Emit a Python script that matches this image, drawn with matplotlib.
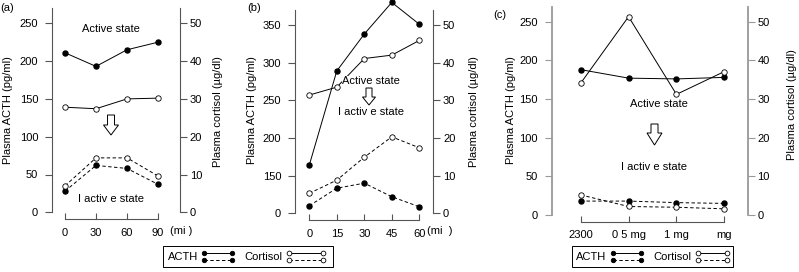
import numpy as np
import matplotlib
matplotlib.use("Agg")
import matplotlib.pyplot as plt
import matplotlib.transforms as mtransforms
from matplotlib.patches import Polygon, Rectangle
from matplotlib.lines import Line2D

plt.rcParams['font.family'] = ['Liberation Sans', 'DejaVu Sans']
plt.rcParams['font.size'] = 8

# ---------------- data ----------------
a_x = [0, 30, 60, 90]
a_x_labels = ["0", "30", "60", "90"]
a_acth_active = [211, 193, 215, 225]
a_cort_active = [27.8, 27.4, 30.0, 30.2]
a_acth_inactive = [28, 62, 58, 37]
a_cort_inactive = [7.0, 14.4, 14.4, 9.6]

b_x = [0, 15, 30, 45, 60]
b_x_labels = ["0", "15", "30", "45", "60"]
b_acth_active = [164, 289, 338, 380, 351]
b_cort_active = [31.4, 33.5, 41.1, 42.0, 45.9]
b_acth_inactive = [30, 100, 120, 66, 26]
b_cort_inactive = [5.3, 8.8, 14.9, 20.3, 17.4]
b_yticks = [0, 150, 200, 250, 300, 350]

c_x = [0, 1, 2, 3]
c_x_labels = ["2300", "0 5 mg", "1 mg", "mg"]
c_acth_active = [188, 177, 176, 178]
c_cort_active = [34.1, 51.3, 31.2, 37.1]
c_acth_inactive = [18, 18, 16, 15]
c_cort_inactive = [5.2, 2.2, 2.0, 1.6]

acth_yticks = [0, 50, 100, 150, 200, 250]
cort_yticks = [0, 10, 20, 30, 40, 50]

W, H = 799, 272
fig = plt.figure(figsize=(W / 100, H / 100), dpi=100)
pix = mtransforms.Affine2D().scale(1 / W, -1 / H).translate(0, 1) + fig.transFigure

SPC = '#555555'
DASH = (0, (3.5, 2.5))


def ax_at(x0, y0, x1, y1):
    return fig.add_axes([x0 / W, (H - y1) / H, (x1 - x0) / W, (y1 - y0) / H])


def panel(box, x, xlabels, xlim, ylim, ylim2, yticks, acth_a, cort_a, acth_i, cort_i,
          scale=None, spine_col=SPC, spine_lw=0.8):
    ax = ax_at(*box)
    ax.patch.set_alpha(0)
    if scale is not None:
        ax.set_yscale('function', functions=scale)
    ax2 = ax.twinx()
    for a in (ax, ax2):
        for s in a.spines.values():
            s.set_visible(False)
    ax.spines['left'].set_visible(True)
    ax.spines['left'].set_color(spine_col)
    ax.spines['left'].set_linewidth(spine_lw)
    ax.spines['bottom'].set_visible(True)
    ax.spines['bottom'].set_color(SPC)
    ax.spines['bottom'].set_linewidth(0.8)
    ax.spines['bottom'].set_position(('outward', 5))
    ax.spines['bottom'].set_bounds(x[0], x[-1])
    ax2.spines['right'].set_visible(True)
    ax2.spines['right'].set_color(spine_col)
    ax2.spines['right'].set_linewidth(spine_lw)

    ax.set_xlim(*xlim)
    ax.set_ylim(*ylim)
    ax2.set_ylim(*ylim2)
    ax.set_xticks(x)
    ax.set_xticklabels(xlabels)
    ax.set_yticks(yticks)
    ax.set_yticklabels([str(t) for t in yticks])
    ax.yaxis.set_minor_locator(matplotlib.ticker.NullLocator())
    ax2.set_yticks(cort_yticks)
    ax.tick_params(axis='x', direction='in', length=4, width=0.8, color=SPC, pad=6)
    ax.tick_params(axis='y', direction='out', length=5, width=0.8, color=spine_col, pad=5)
    ax2.tick_params(axis='y', direction='out', length=5, width=0.8, color=spine_col, pad=2)

    ax.plot(x, acth_a, '-', color='black', lw=0.7, marker='o', ms=3.6,
            mfc='black', mec='black', clip_on=False, zorder=3)
    ax.plot(x, acth_i, linestyle=DASH, color='black', lw=0.7, marker='o', ms=3.6,
            mfc='black', mec='black', clip_on=False, zorder=3)
    ax2.plot(x, cort_a, '-', color='black', lw=0.7, marker='o', ms=3.9,
             mfc='white', mec='black', mew=0.6, clip_on=False, zorder=3)
    ax2.plot(x, cort_i, linestyle=DASH, color='black', lw=0.7, marker='o', ms=3.9,
             mfc='white', mec='black', mew=0.6, clip_on=False, zorder=3)
    return ax, ax2


def arrow(cx, y0, y1, yh, sh, hh):
    pts = [(cx - sh, y0), (cx + sh, y0), (cx + sh, yh), (cx + hh, yh),
           (cx, y1), (cx - hh, yh), (cx - sh, yh)]
    fig.patches.append(Polygon(pts, closed=True, transform=pix, fc='white',
                               ec='black', lw=0.7, zorder=5))


def txt(x, y, s, **kw):
    fig.text(x, y, s, transform=pix, **kw)


WB = dict(facecolor='white', edgecolor='none', pad=0.3)

# ---- panel (a)
px_per = (212.3 - 23.3) / 250
pa = panel((52, 8, 180, 212.3), a_x, a_x_labels,
           ((52 - 65) / (93 / 90), (180 - 65) / (93 / 90)),
           (0, (212.3 - 8) / px_per), (0, (212.3 - 8) / px_per / 5), acth_yticks,
           a_acth_active, a_cort_active, a_acth_inactive, a_cort_inactive)
txt(170, 231, "(mi )", ha='left', va='center')
txt(110.5, 29, "Active state", ha='center', va='center')
txt(110.5, 199, "I activ e state", ha='center', va='center')
arrow(111, 115, 135, 125, 3.5, 7.5)

# ---- panel (b)
fwd = lambda v: np.where(np.asarray(v) <= 150, np.asarray(v) / 3.0, np.asarray(v) - 100.0)
inv = lambda t: np.where(np.asarray(t) <= 50, np.asarray(t) * 3.0, np.asarray(t) + 100.0)
pxb = (213.3 - 25) / 250
ttop = (213.3 - 10) / pxb
pb = panel((295, 10, 433.3, 213.3), b_x, b_x_labels,
           ((295 - 309.3) / (110 / 60), (433.3 - 309.3) / (110 / 60)),
           (0, ttop + 100), (0, ttop / 5), b_yticks,
           b_acth_active, b_cort_active, b_acth_inactive, b_cort_inactive,
           scale=(fwd, inv))
txt(427, 231, "(mi  )", ha='left', va='center')
txt(371, 81, "Active state", ha='center', va='center', bbox=WB, zorder=6)
txt(371, 112, "I activ e state", ha='center', va='center', bbox=WB, zorder=6)
arrow(369, 88, 105, 97, 3, 6.5)

# ---- panel (c)
pxc = (215 - 21.7) / 250
step = (724.3 - 580.7) / 3
pc = panel((551.7, 7, 747.7, 215), c_x, c_x_labels,
           ((551.7 - 580.7) / step, (747.7 - 580.7) / step),
           (0, (215 - 7) / pxc), (0, (215 - 7) / pxc / 5), acth_yticks,
           c_acth_active, c_cort_active, c_acth_inactive, c_cort_inactive,
           spine_col='#999999', spine_lw=1.3)
txt(659, 104, "Active state", ha='center', va='center')
txt(654, 167, "I activ e state", ha='center', va='center')
arrow(654.5, 124, 145, 133, 3.5, 7.5)

# ---- panel labels and axis titles
txt(0, 8, "(a)", ha='left', va='center')
txt(247, 8, "(b)", ha='left', va='center')
txt(493, 15, "(c)", ha='left', va='center')
for xl, yl in [(8, 110), (252, 110), (511, 110)]:
    txt(xl, yl, "Plasma ACTH (pg/ml)", ha='center', va='center', rotation=90)
for xr, yr in [(218, 112), (474, 112), (792, 105)]:
    txt(xr, yr, "Plasma cortisol (\u00b5g/dl)", ha='center', va='center', rotation=90)


# ---- legends
def legend(x0, x1, acth_x, h1, cort_x, h2):
    fig.patches.append(Rectangle((x0, 246), x1 - x0, 21, transform=pix, fc='white',
                                 ec='black', lw=0.7))
    txt(acth_x, 256.5, "ACTH", ha='left', va='center')
    txt(cort_x, 256.5, "Cortisol", ha='left', va='center')
    for (hx0, hx1), filled in [(h1, True), (h2, False)]:
        for yy, ls in [(253, '-'), (259.5, DASH)]:
            fig.lines.append(Line2D([hx0, hx1], [yy, yy], transform=pix, color='black',
                                    lw=0.7, linestyle=ls, marker='o', ms=3.2 if filled else 3.4,
                                    mfc='black' if filled else 'white', mec='black', mew=0.6))


legend(163, 333, 168, (204, 232), 244, (289, 323))
legend(572, 733, 576, (613, 641), 653, (698, 727))

fig.savefig("out.png", dpi=100)
